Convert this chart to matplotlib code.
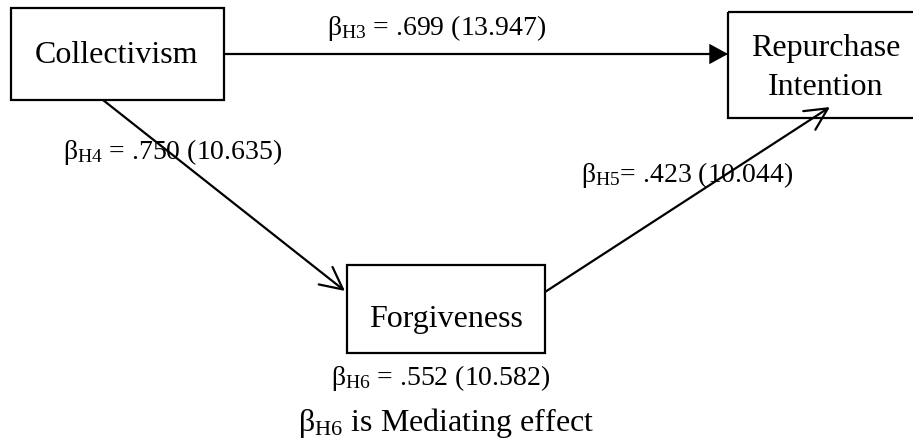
import matplotlib
matplotlib.use("Agg")
import matplotlib.pyplot as plt
from matplotlib.patches import Rectangle, FancyArrowPatch

plt.rcParams['font.family'] = ['Liberation Serif', 'DejaVu Serif']
plt.rcParams['mathtext.fontset'] = 'custom'
plt.rcParams['mathtext.rm'] = 'Liberation Serif'
plt.rcParams['mathtext.it'] = 'Liberation Serif:italic'

# Data
nodes = ['Collectivism', 'Repurchase\nIntention', 'Forgiveness']
paths = ['H3', 'H4', 'H5', 'H6']
betas = ['.699', '.750', '.423', '.552']
t_values = ['13.947', '10.635', '10.044', '10.582']
note = 'is Mediating effect'

# Layout (pixel coordinates, y down)
W, H = 913, 439
boxes = {
    'Collectivism': (11, 9, 224, 101),
    'Repurchase\nIntention': (728, 13, 925, 119),
    'Forgiveness': (347, 266, 545, 354),
}
# text centre x and baselines of each line
node_text = {
    'Collectivism': (117, [63]),
    'Repurchase\nIntention': (826, [56, 95]),
    'Forgiveness': (446, [327]),
}
label_pos = {
    'H3': (437, 35, 'center'),
    'H4': (63, 159, 'left'),
    'H5': (581, 182, 'left'),
    'H6': (441, 385, 'center'),
}

fig = plt.figure(figsize=(W / 100, H / 100), dpi=100)
ax = fig.add_axes([0, 0, 1, 1])
ax.set_xlim(0, W)
ax.set_ylim(H, 0)
ax.axis('off')

lw = 1.6
for name in nodes:
    x0, y0, x1, y1 = boxes[name]
    ax.add_patch(Rectangle((x0, y0), x1 - x0, y1 - y0, fill=False,
                           edgecolor='black', lw=lw, zorder=3))
    cx, bases = node_text[name]
    for line, yb in zip(name.split('\n'), bases):
        ax.text(cx, yb, line, ha='center', va='baseline', fontsize=23, zorder=3)

# arrows
arrows = [
    ((224, 55), (728, 55), '-|>,head_length=0.55,head_width=0.3'),
    ((103, 101), (345, 292), '->,head_length=0.8,head_width=0.4'),
    ((545, 293), (830, 108), '->,head_length=0.8,head_width=0.4'),
]
for start, end, style in arrows:
    ax.add_patch(FancyArrowPatch(start, end, arrowstyle=style, mutation_scale=20,
                                 color='black', lw=lw, shrinkA=0, shrinkB=0,
                                 joinstyle='miter', zorder=4))

for p, b, t in zip(paths, betas, t_values):
    x, y, ha = label_pos[p]
    sep = ' ' if p in ('H3', 'H4', 'H6') else ''
    ax.text(x, y, r'$\mathrm{\beta}_{\mathrm{%s}}$' % p + sep + '= %s (%s)' % (b, t),
            ha=ha, va='baseline', fontsize=20, zorder=2)

ax.text(446, 431, r'$\mathrm{\beta}_{\mathrm{H6}}$ ' + note,
        ha='center', va='baseline', fontsize=23, zorder=2)

fig.savefig('out.png', dpi=100, facecolor='white')
